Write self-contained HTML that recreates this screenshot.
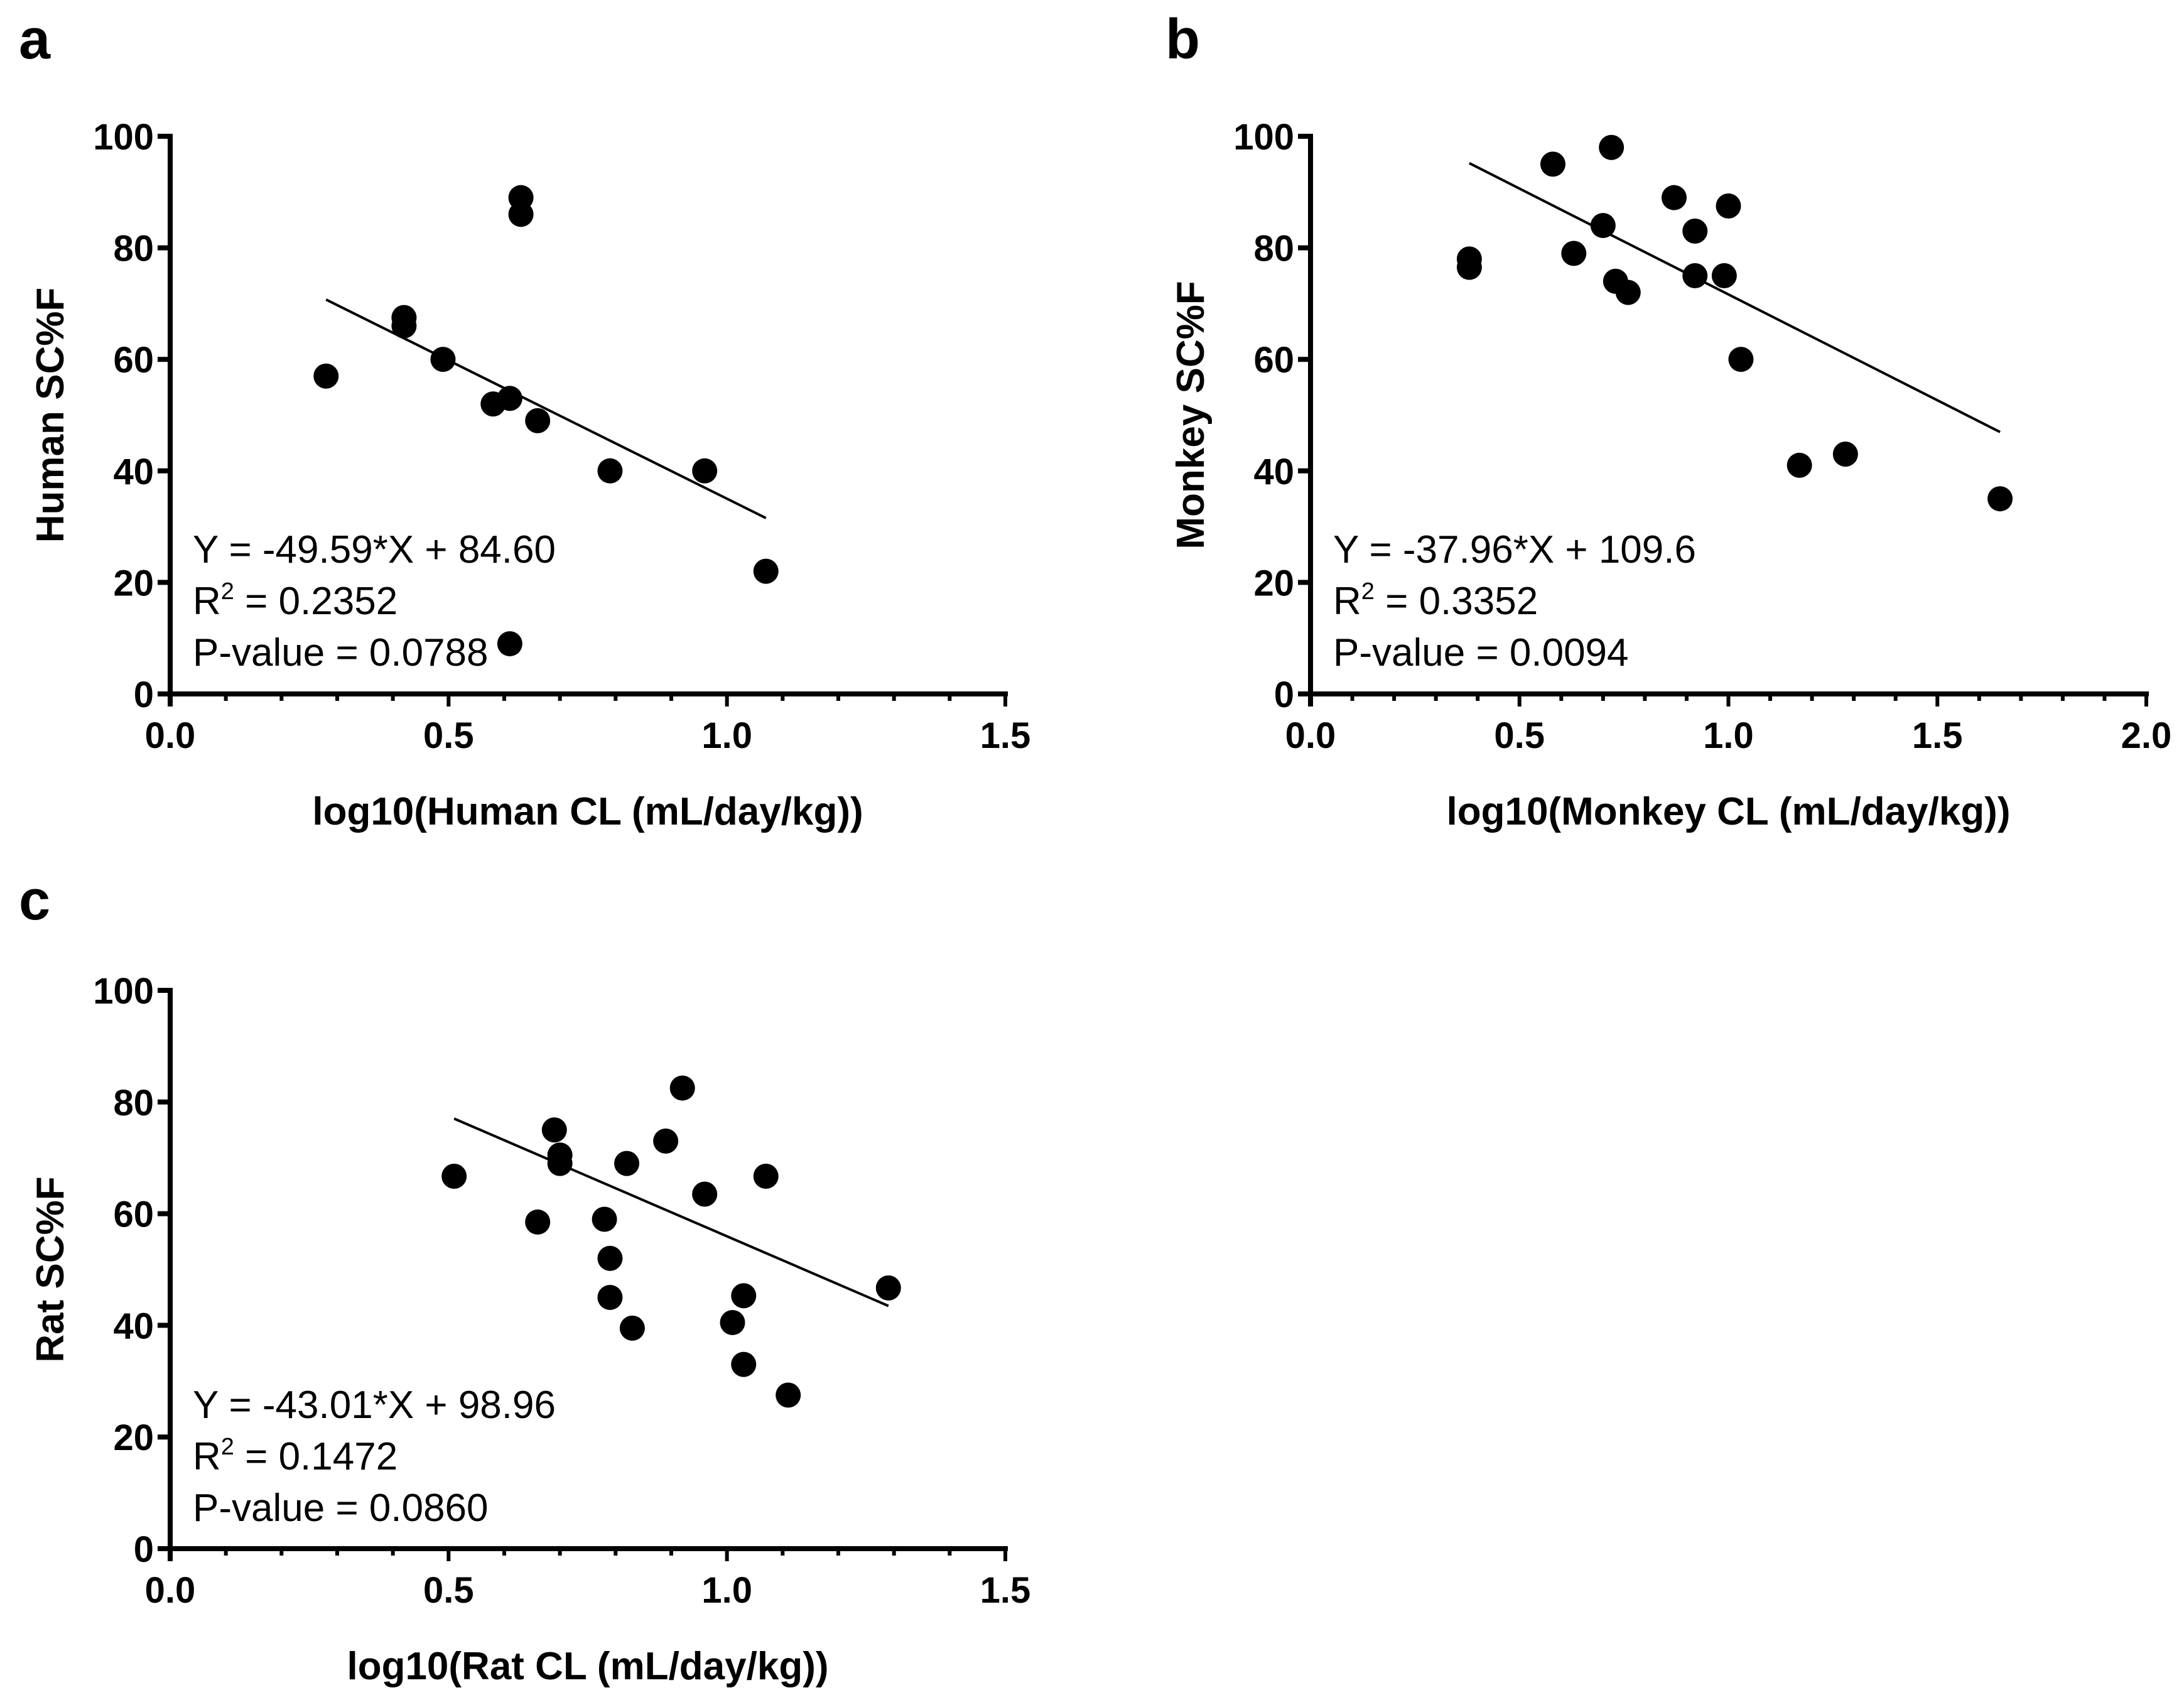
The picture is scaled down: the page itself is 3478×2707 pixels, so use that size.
<!DOCTYPE html>
<html><head><meta charset="utf-8"><style>
html,body{margin:0;padding:0;background:#fff}
svg{display:block}
text{font-family:"Liberation Sans",Arial,sans-serif;fill:#000}
</style></head><body>
<svg id="fig" width="3478" height="2707" viewBox="0 0 3478 2707" xmlns="http://www.w3.org/2000/svg"></svg>
<script>
// Panel a (Human)
const humanX = [0.28,0.42,0.42,0.49,0.58,0.61,0.63,0.63,0.66,0.79,0.96,1.07,0.61];
const humanY = [57,67.5,66,60,52,53,89,86,49,40,40,22,9];
const humanFit = [-49.59, 84.60, 0.28, 1.07];
// Panel b (Monkey)
const monkeyX = [0.38,0.38,0.58,0.63,0.70,0.72,0.73,0.76,0.87,0.92,0.92,0.99,1.0,1.03,1.17,1.28,1.65];
const monkeyY = [78,76.5,95,79,84,98,74,72,89,83,75,75,87.5,60,41,43,35];
const monkeyFit = [-37.96, 109.6, 0.38, 1.65];
// Panel c (Rat)
const ratX = [0.51,0.66,0.69,0.70,0.70,0.78,0.79,0.79,0.82,0.83,0.89,0.92,0.96,1.01,1.03,1.03,1.07,1.11,1.29];
const ratY = [66.7,58.5,75,70.5,69,59,52,45,69,39.5,73,82.5,63.5,40.5,45.3,33,66.7,27.5,46.7];
const ratFit = [-43.01, 98.96, 0.51, 1.29];
const yTicks = [0,20,40,60,80,100];
const xTicks15 = ["0.0","0.5","1.0","1.5"];
const xTicks20 = ["0.0","0.5","1.0","1.5","2.0"];

const NS="http://www.w3.org/2000/svg";
const svg=document.getElementById('fig');
function mk(tag,attrs,parent){const e=document.createElementNS(NS,tag);for(const k in attrs)e.setAttribute(k,attrs[k]);(parent||svg).appendChild(e);return e;}

function panel(o){
  const g=mk('g',{});
  
  
  const sx=v=>o.x0+(v/o.xmax)*(o.x1-o.x0);
  const sy=v=>o.y0-(v/100)*(o.y0-o.y100);
  const L=mk('text',{x:o.lx,y:o.ly,'font-size':90,'font-weight':'bold'},g);L.textContent=o.letter;
  
  
  const ya=mk('line',{x1:o.x0,y1:o.y100-4,x2:o.x0,y2:o.y0+4,stroke:'#000','stroke-width':8},g);
  
  
  const xa=mk('line',{x1:o.x0-4,y1:o.y0,x2:o.x1+4,y2:o.y0,stroke:'#000','stroke-width':8},g);
  
  
  yTicks.forEach(t=>{
    const y=sy(t);
    mk('line',{x1:o.x0-20,y1:y,x2:o.x0,y2:y,stroke:'#000','stroke-width':8},g);
    const tx=mk('text',{x:o.x0-26,y:y+21,'font-size':58,'font-weight':'bold','text-anchor':'end'},g);
    tx.textContent=t;
    
    
  });
  const nMinor=Math.round(o.xmax*10);
  for(let i=1;i<=nMinor;i++){
    const v=i/10, x=sx(v), major=(i%5===0);
    mk('line',{x1:x,y1:o.y0,x2:x,y2:o.y0+(major?20:11),stroke:'#000','stroke-width':6},g);
  }
  mk('line',{x1:o.x0,y1:o.y0,x2:o.x0,y2:o.y0+20,stroke:'#000','stroke-width':8},g);
  o.xt.forEach(t=>{
    const tx=mk('text',{x:sx(parseFloat(t)),y:o.y0+86,'font-size':58,'font-weight':'bold','text-anchor':'middle'},g);
    tx.textContent=t;
    
    
  });
  const xt=mk('text',{x:(o.x0+o.x1)/2+(o.xtOff||0),y:o.y0+208,'font-size':62,'font-weight':'bold','text-anchor':'middle'},g);
  xt.textContent=o.xtitle;
  
  
  const cy=(o.y0+o.y100)/2;
  const yt=mk('text',{x:0,y:0,'font-size':62,'font-weight':'bold','text-anchor':'middle',transform:`translate(${o.x0-170},${cy}) rotate(-90)`},g);
  yt.textContent=o.ytitle;
  
  
  const f=o.fit;
  const fl=mk('line',{x1:sx(f[2]),y1:sy(f[0]*f[2]+f[1]),x2:sx(f[3]),y2:sy(f[0]*f[3]+f[1]),stroke:'#000','stroke-width':4},g);
  
  
  o.xs.forEach((v,i)=>{
    const c=mk('circle',{cx:sx(v),cy:sy(o.ys[i]),r:20,fill:'#000'},g);
    
    
  });
  const ax=o.x0+36, ab=o.annY;
  const t1=mk('text',{x:ax,y:ab,'font-size':62},g);t1.textContent=o.eq;
  
  
  const t2=mk('text',{x:ax,y:ab+82,'font-size':62},g);
  t2.innerHTML='R<tspan dy="-24" font-size="38">2</tspan><tspan dy="24"> = '+o.r2+'</tspan>';
  
  
  const t3=mk('text',{x:ax,y:ab+164,'font-size':62},g);t3.textContent='P-value = '+o.p;
  
  
}
panel({name:'human',letter:'a',lx:30,ly:93,x0:271,x1:1601,xmax:1.5,y0:1105,y100:217,xt:xTicks15,
  xtitle:'log10(Human CL (mL/day/kg))',xtOff:0,ytitle:'Human SC%F',xs:humanX,ys:humanY,fit:humanFit,
  eq:'Y = -49.59*X + 84.60',r2:'0.2352',p:'0.0788',annY:896});
panel({name:'monkey',letter:'b',lx:1856,ly:93,x0:2087,x1:3418,xmax:2.0,y0:1105,y100:217,xt:xTicks20,
  xtitle:'log10(Monkey CL (mL/day/kg))',xtOff:0,ytitle:'Monkey SC%F',xs:monkeyX,ys:monkeyY,fit:monkeyFit,
  eq:'Y = -37.96*X + 109.6',r2:'0.3352',p:'0.0094',annY:896});
panel({name:'rat',letter:'c',lx:30,ly:1464,x0:271,x1:1601,xmax:1.5,y0:2466,y100:1577,xt:xTicks15,
  xtitle:'log10(Rat CL (mL/day/kg))',xtOff:0,ytitle:'Rat SC%F',xs:ratX,ys:ratY,fit:ratFit,
  eq:'Y = -43.01*X + 98.96',r2:'0.1472',p:'0.0860',annY:2258});
</script>
</body></html>
